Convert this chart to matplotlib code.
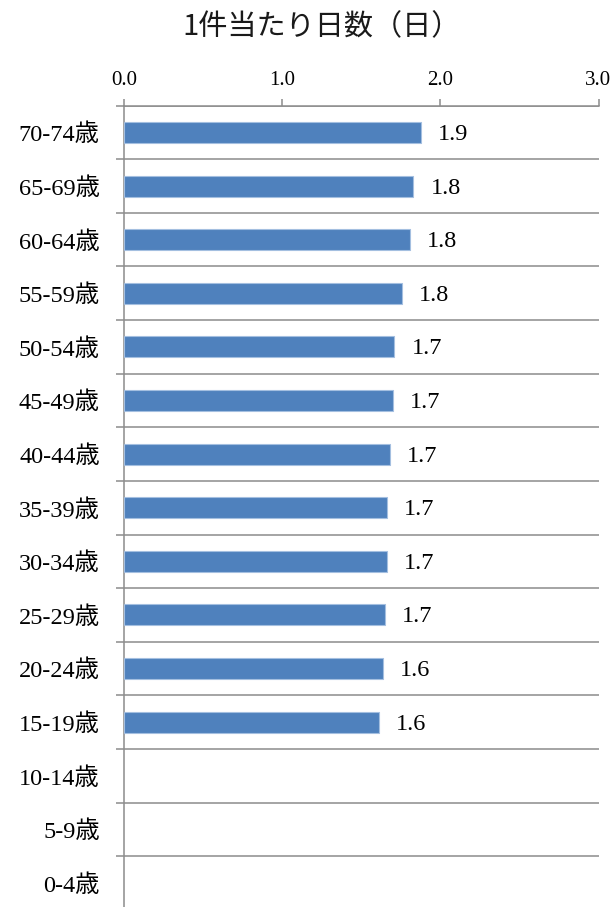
import numpy as np
import matplotlib
matplotlib.use("Agg")
import matplotlib.pyplot as plt

plt.rcParams['font.family'] = ['Liberation Serif', 'Noto Sans CJK JP', 'DejaVu Sans']

# ---- data ----
categories = ['0-4歳', '5-9歳', '10-14歳', '15-19歳', '20-24歳', '25-29歳', '30-34歳',
              '35-39歳', '40-44歳', '45-49歳', '50-54歳', '55-59歳', '60-64歳',
              '65-69歳', '70-74歳']
values = [np.nan, np.nan, np.nan, 1.61, 1.64, 1.65, 1.66, 1.66, 1.68, 1.70,
          1.71, 1.76, 1.81, 1.83, 1.88]
value_labels = ['', '', '', '1.6', '1.6', '1.7', '1.7', '1.7', '1.7', '1.7',
                '1.7', '1.8', '1.8', '1.8', '1.9']
xticks = [0.0, 1.0, 2.0, 3.0]
xtick_labels = ['0.0', '1.0', '2.0', '3.0']
title = '1件当たり日数（日）'

# ---- figure ----
W, H = 614, 907
fig = plt.figure(figsize=(W / 100, H / 100), dpi=100)
left_px, right_px, top_px, bottom_px = 124, 598.5, 105.7, 909.7
ax = fig.add_axes([left_px / W, 1 - bottom_px / H,
                   (right_px - left_px) / W, (bottom_px - top_px) / H])

grid_color = '#8c8c8c'
bar_color = '#4f81bd'

y = np.arange(len(categories))
vals = np.array(values, dtype=float)
mask = ~np.isnan(vals)
ax.barh(y[mask], vals[mask], height=0.39, color=bar_color,
        edgecolor='#a4bfe0', linewidth=0.8, zorder=3)

for yi, v, lab in zip(y, vals, value_labels):
    if np.isnan(v) or not lab:
        continue
    ax.annotate(lab, xy=(v, yi), xytext=(12.2, -1.5), textcoords='offset points',
                ha='left', va='center', fontsize=17.5, color='black',
                family=['Liberation Serif', 'Noto Sans CJK JP'])

ax.set_xlim(0, 3.0)
ax.set_ylim(-0.5, len(categories) - 0.5)

# x axis on top
ax.xaxis.tick_top()
ax.tick_params(axis='x', which='major', direction='out', length=4.8, width=1.1,
               color=grid_color, pad=6.5, labelcolor='black',
               top=True, labeltop=True, bottom=False, labelbottom=False)
ax.set_xticks(xticks)
ax.set_xticklabels(xtick_labels, fontsize=15)
for tk in ax.xaxis.get_major_ticks():
    tk.label2.set_fontsize(15)

# y axis: labels at centers, ticks/gridlines at boundaries
ax.set_yticks(y)
ax.set_yticklabels(categories, fontsize=17.5)
ax.set_yticks(np.arange(-0.5, len(categories) - 0.5 + 0.01, 1.0), minor=True)
ax.tick_params(axis='y', which='major', length=0, pad=17.5, labelcolor='black')
ax.tick_params(axis='y', which='minor', direction='out', length=5.8, width=1.1,
               color=grid_color)
ax.yaxis.grid(True, which='minor', color=grid_color, linewidth=1.1, zorder=1)
ax.xaxis.grid(False)
ax.set_axisbelow(True)

for s in ['right', 'bottom']:
    ax.spines[s].set_visible(False)
for s in ['left', 'top']:
    ax.spines[s].set_color(grid_color)
    ax.spines[s].set_linewidth(1.1)

fig.text(322 / W, 1 - 27 / H, title, ha='center', va='center', fontsize=21,
         color='#1a1a1a', family=['Noto Sans CJK JP', 'DejaVu Sans'])

fig.savefig('out.png', dpi=100)
